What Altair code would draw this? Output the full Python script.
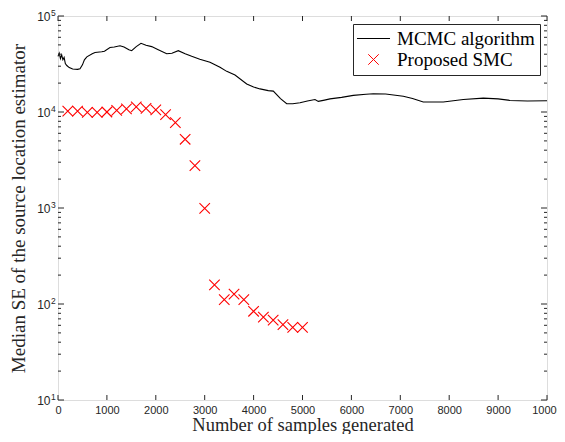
import altair as alt
import pandas as pd

# ---------------- data ----------------
mcmc_x = [0, 25, 50, 75, 100, 125, 150, 180, 230, 300, 400, 450, 500, 540, 590, 700, 757, 894, 950,
          1063, 1150, 1268, 1350, 1450, 1507, 1600, 1697, 1800, 1916, 2050, 2223, 2330, 2460, 2600,
          2734, 2900, 3108, 3313, 3450, 3620, 3859, 4000, 4131, 4300, 4403, 4550, 4677, 4800, 4949,
          5100, 5256, 5323, 5450, 5562, 5800, 6039, 6300, 6448, 6700, 7061, 7250, 7470, 7879, 8288,
          8697, 9000, 9243, 9600, 10000]
mcmc_y = [38000, 41000, 36000, 39500, 35000, 37000, 32000, 30500, 29000, 28000, 27800, 28200, 31000,
          35000, 37500, 40500, 41700, 42500, 43000, 47000, 47500, 49000, 47500, 44500, 43500, 48000,
          52000, 49500, 48000, 44500, 40500, 41000, 43500, 40500, 38000, 35500, 33000, 29200, 26500,
          24300, 19600, 18200, 17400, 16700, 16500, 13800, 12200, 12200, 12500, 13000, 13500, 12900,
          13300, 13700, 14200, 14900, 15300, 15500, 15400, 14600, 13800, 12700, 12700, 13500, 13950,
          13700, 13200, 13000, 13100]

smc_x = [200, 400, 600, 800, 1000, 1200, 1400, 1600, 1800, 2000, 2200, 2400, 2600, 2800, 3000,
         3200, 3400, 3600, 3800, 4000, 4200, 4400, 4600, 4800, 5000]
smc_y = [10200, 10200, 9900, 9900, 10000, 10400, 10800, 11300, 10900, 10500, 9400, 7750, 5200, 2770,
         990, 158, 111, 127, 111, 84, 73, 68, 61, 57, 57]

series_names = ["MCMC algorithm", "Proposed SMC"]

x_ticks = [0, 1000, 2000, 3000, 4000, 5000, 6000, 7000, 8000, 9000, 10000]
y_major = [10, 100, 1000, 10000, 100000]
y_exp = ["1", "2", "3", "4", "5"]
y_minor = [20, 30, 40, 50, 60, 70, 80, 90,
           200, 300, 400, 500, 600, 700, 800, 900,
           2000, 3000, 4000, 5000, 6000, 7000, 8000, 9000,
           20000, 30000, 40000, 50000, 60000, 70000, 80000, 90000]

W, H = 489, 384
AX = "#262626"
SERIF = "Liberation Serif"
SANS = "Liberation Sans"
XPATH = "M-1,-1L1,1M-1,1L1,-1"
LPATH = "M-3.15,0L3.15,0"
MSIZE = 110

df_mcmc = pd.DataFrame({"x": mcmc_x, "y": mcmc_y})
df_smc = pd.DataFrame({"x": smc_x, "y": smc_y, "series": [series_names[1]] * len(smc_x)})
df_major = pd.DataFrame({"x": [0] * len(y_major), "y": y_major, "e": y_exp, "b": ["10"] * len(y_major)})
df_minor = pd.DataFrame({"y": y_minor})
df_xt = pd.DataFrame({"x": x_ticks})

xscale = alt.Scale(domain=[0, 10000], nice=False, zero=False)
yscale = alt.Scale(type="log", domain=[10, 100000], nice=False)

xaxis = alt.Axis(values=x_ticks, format="d", ticks=False, domain=False, grid=False,
                 labelFont=SANS, labelFontSize=11, labelColor=AX, labelPadding=4,
                 labelFlush=False,
                 title="Number of samples generated", titleFont=SERIF,
                 titleFontSize=18.5, titleFontWeight="normal", titleColor=AX,
                 titlePadding=0)
yaxis = alt.Axis(labels=False, ticks=False, domain=False, grid=False,
                 title="Median SE of the source location estimator",
                 titleFont=SERIF, titleFontSize=19, titleFontWeight="normal",
                 titleColor=AX, titlePadding=30)

X = lambda: alt.X("x:Q", scale=xscale, axis=xaxis)
Y = lambda: alt.Y("y:Q", scale=yscale, axis=yaxis)

leg = alt.Legend(
    title=None, orient="none", legendX=295, legendY=8,
    labelFont=SERIF, labelFontSize=19, labelColor="black", labelOffset=14,
    symbolOffset=6, symbolSize=MSIZE,
    strokeColor=AX, fillColor="white", padding=5, rowPadding=1,
    symbolStrokeWidth=1,
)

line = alt.Chart(df_mcmc).mark_line(color="black", strokeWidth=1.1).encode(x=X(), y=Y())

pts = alt.Chart(df_smc).mark_point(filled=False, strokeWidth=1.1, opacity=1, size=MSIZE).encode(
    x=X(), y=Y(),
    color=alt.Color("series:N", scale=alt.Scale(domain=series_names, range=["black", "#ff0000"]),
                    legend=leg),
    shape=alt.Shape("series:N", scale=alt.Scale(domain=series_names, range=[LPATH, XPATH]),
                    legend=leg),
)

# inward ticks
rule = dict(color=AX, strokeWidth=1)
yl_major = alt.Chart(df_major).mark_rule(**rule).encode(y=Y(), x=alt.value(0), x2=alt.value(6))
yr_major = alt.Chart(df_major).mark_rule(**rule).encode(y=Y(), x=alt.value(W), x2=alt.value(W - 6))
yl_minor = alt.Chart(df_minor).mark_rule(**rule).encode(y=Y(), x=alt.value(0), x2=alt.value(3))
yr_minor = alt.Chart(df_minor).mark_rule(**rule).encode(y=Y(), x=alt.value(W), x2=alt.value(W - 3))
xb = alt.Chart(df_xt).mark_rule(**rule).encode(x=X(), y=alt.value(H), y2=alt.value(H - 5))
xt = alt.Chart(df_xt).mark_rule(**rule).encode(x=X(), y=alt.value(0), y2=alt.value(5))

# y tick labels 10^n
base = alt.Chart(df_major).mark_text(align="right", baseline="middle", font=SANS,
                                     fontSize=12, color=AX, dy=1).encode(
    y=Y(), x=alt.value(-7.5), text="b:N")
expo = alt.Chart(df_major).mark_text(align="left", baseline="middle", font=SANS,
                                     fontSize=8.5, color=AX, dy=-3.5).encode(
    y=Y(), x=alt.value(-7), text="e:N")

chart = alt.layer(line, pts, yl_major, yr_major, yl_minor, yr_minor, xb, xt, base, expo).properties(
    width=W, height=H,
    autosize=alt.AutoSizeParams(type="none"),
    padding={"left": 50, "top": 8, "right": 10, "bottom": 34},
).configure_view(stroke=AX, strokeWidth=1).configure(background="white")

chart.save("out.html", embed_options={"renderer": "svg", "actions": False})
